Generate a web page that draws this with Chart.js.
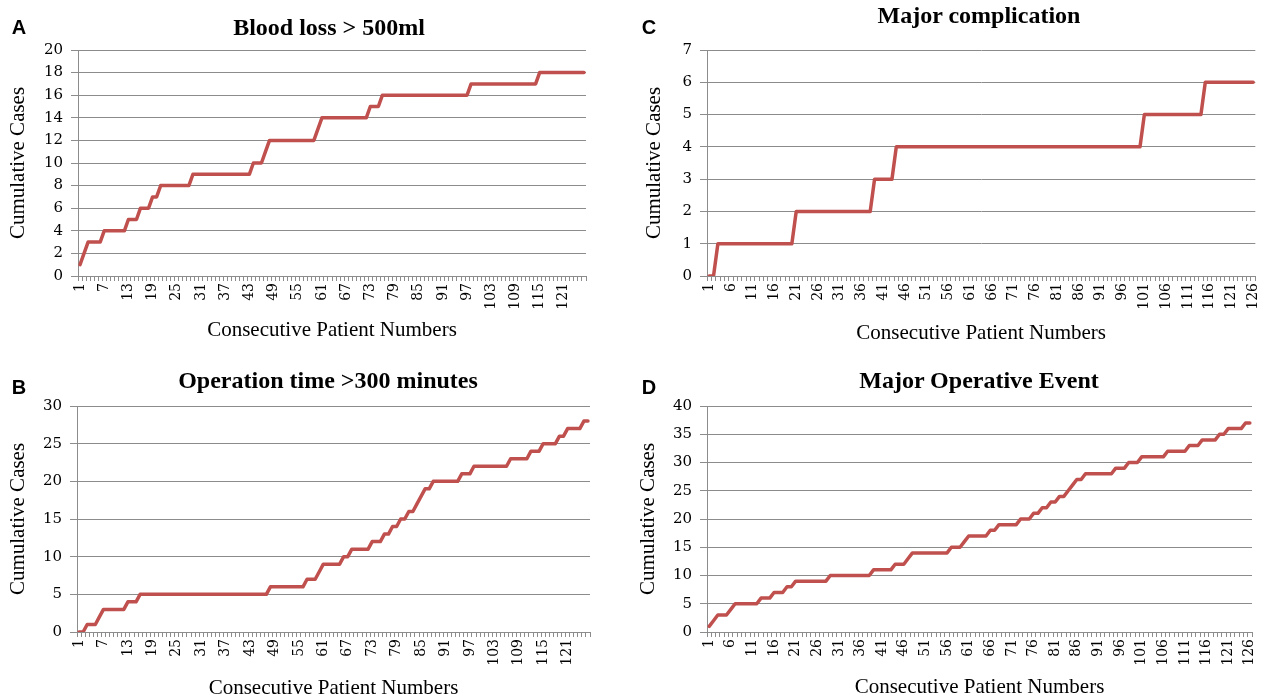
<!DOCTYPE html>
<html>
<head>
<meta charset="utf-8">
<script src="https://cdn.jsdelivr.net/npm/chart.js@4.4.1/dist/chart.umd.min.js"></script>
<style>
body { margin: 0; background: #fff; }
#wrap { position: relative; width: 1272px; height: 699px; overflow: hidden; background: #fff; }
canvas { position: absolute; }
.title { position: absolute; transform: translate(-50%, -50%); font: bold 24px "Liberation Serif"; line-height: 1; white-space: nowrap; color: #000; }
.letter { position: absolute; transform: translate(-50%, -50%); font: bold 20px "Liberation Sans"; line-height: 1; color: #000; }
</style>
</head>
<body>
<div id="wrap">
    <canvas id="chartA" width="620" height="350" style="left:0px;top:0px"></canvas>
    <canvas id="chartC" width="652" height="350" style="left:620px;top:0px"></canvas>
    <canvas id="chartB" width="620" height="344" style="left:0px;top:355px"></canvas>
    <canvas id="chartD" width="652" height="344" style="left:620px;top:355px"></canvas>

    <div class="letter" style="left:19px;top:27px">A</div>
    <div class="letter" style="left:649px;top:27px">C</div>
    <div class="letter" style="left:19px;top:387px">B</div>
    <div class="letter" style="left:649px;top:387px">D</div>

    <div class="title" style="left:329px;top:27px">Blood loss &gt; 500ml</div>
    <div class="title" style="left:979px;top:15px">Major complication</div>
    <div class="title" style="left:328px;top:380px">Operation time &gt;300 minutes</div>
    <div class="title" style="left:979px;top:380px">Major Operative Event</div>
</div>
<script>
// consecutive patient numbers (categories)
const patients = [
    1, 2, 3, 4, 5, 6, 7, 8, 9, 10,
    11, 12, 13, 14, 15, 16, 17, 18, 19, 20,
    21, 22, 23, 24, 25, 26, 27, 28, 29, 30,
    31, 32, 33, 34, 35, 36, 37, 38, 39, 40,
    41, 42, 43, 44, 45, 46, 47, 48, 49, 50,
    51, 52, 53, 54, 55, 56, 57, 58, 59, 60,
    61, 62, 63, 64, 65, 66, 67, 68, 69, 70,
    71, 72, 73, 74, 75, 76, 77, 78, 79, 80,
    81, 82, 83, 84, 85, 86, 87, 88, 89, 90,
    91, 92, 93, 94, 95, 96, 97, 98, 99, 100,
    101, 102, 103, 104, 105, 106, 107, 108, 109, 110,
    111, 112, 113, 114, 115, 116, 117, 118, 119, 120,
    121, 122, 123, 124, 125, 126
];

// A: blood loss > 500ml
const bloodLoss = [
    1, 2, 3, 3, 3, 3, 4, 4, 4, 4,
    4, 4, 5, 5, 5, 6, 6, 6, 7, 7,
    8, 8, 8, 8, 8, 8, 8, 8, 9, 9,
    9, 9, 9, 9, 9, 9, 9, 9, 9, 9,
    9, 9, 9, 10, 10, 10, 11, 12, 12, 12,
    12, 12, 12, 12, 12, 12, 12, 12, 12, 13,
    14, 14, 14, 14, 14, 14, 14, 14, 14, 14,
    14, 14, 15, 15, 15, 16, 16, 16, 16, 16,
    16, 16, 16, 16, 16, 16, 16, 16, 16, 16,
    16, 16, 16, 16, 16, 16, 16, 17, 17, 17,
    17, 17, 17, 17, 17, 17, 17, 17, 17, 17,
    17, 17, 17, 17, 18, 18, 18, 18, 18, 18,
    18, 18, 18, 18, 18, 18
];

// B: operation time > 300 minutes
const opTime = [
    0, 0, 1, 1, 1, 2, 3, 3, 3, 3,
    3, 3, 4, 4, 4, 5, 5, 5, 5, 5,
    5, 5, 5, 5, 5, 5, 5, 5, 5, 5,
    5, 5, 5, 5, 5, 5, 5, 5, 5, 5,
    5, 5, 5, 5, 5, 5, 5, 6, 6, 6,
    6, 6, 6, 6, 6, 6, 7, 7, 7, 8,
    9, 9, 9, 9, 9, 10, 10, 11, 11, 11,
    11, 11, 12, 12, 12, 13, 13, 14, 14, 15,
    15, 16, 16, 17, 18, 19, 19, 20, 20, 20,
    20, 20, 20, 20, 21, 21, 21, 22, 22, 22,
    22, 22, 22, 22, 22, 22, 23, 23, 23, 23,
    23, 24, 24, 24, 25, 25, 25, 25, 26, 26,
    27, 27, 27, 27, 28, 28
];

// C: major complication
const majorComp = [
    0, 0, 1, 1, 1, 1, 1, 1, 1, 1,
    1, 1, 1, 1, 1, 1, 1, 1, 1, 1,
    2, 2, 2, 2, 2, 2, 2, 2, 2, 2,
    2, 2, 2, 2, 2, 2, 2, 2, 3, 3,
    3, 3, 3, 4, 4, 4, 4, 4, 4, 4,
    4, 4, 4, 4, 4, 4, 4, 4, 4, 4,
    4, 4, 4, 4, 4, 4, 4, 4, 4, 4,
    4, 4, 4, 4, 4, 4, 4, 4, 4, 4,
    4, 4, 4, 4, 4, 4, 4, 4, 4, 4,
    4, 4, 4, 4, 4, 4, 4, 4, 4, 4,
    5, 5, 5, 5, 5, 5, 5, 5, 5, 5,
    5, 5, 5, 5, 6, 6, 6, 6, 6, 6,
    6, 6, 6, 6, 6, 6
];

// D: major operative event
const majorEvent = [
    1, 2, 3, 3, 3, 4, 5, 5, 5, 5,
    5, 5, 6, 6, 6, 7, 7, 7, 8, 8,
    9, 9, 9, 9, 9, 9, 9, 9, 10, 10,
    10, 10, 10, 10, 10, 10, 10, 10, 11, 11,
    11, 11, 11, 12, 12, 12, 13, 14, 14, 14,
    14, 14, 14, 14, 14, 14, 15, 15, 15, 16,
    17, 17, 17, 17, 17, 18, 18, 19, 19, 19,
    19, 19, 20, 20, 20, 21, 21, 22, 22, 23,
    23, 24, 24, 25, 26, 27, 27, 28, 28, 28,
    28, 28, 28, 28, 29, 29, 29, 30, 30, 30,
    31, 31, 31, 31, 31, 31, 32, 32, 32, 32,
    32, 33, 33, 33, 34, 34, 34, 34, 35, 35,
    36, 36, 36, 36, 37, 37
];

const lineColor = '#C0504D';
const gridColor = '#8c8c8c';

function makeChart(id, values, cfg) {
    return new Chart(document.getElementById(id), {
        type: 'line',
        data: {
            labels: patients,
            datasets: [{
                data: values,
                borderColor: lineColor,
                borderWidth: 3.5,
                pointRadius: 0,
                tension: 0,
                fill: false,
                borderJoinStyle: 'round',
                borderCapStyle: 'round',
            }]
        },
        options: {
            responsive: false,
            animation: false,
            layout: { padding: cfg.pad },
            plugins: { legend: { display: false }, tooltip: { enabled: false } },
            scales: {
                x: {
                    type: 'category',
                    offset: true,
                    grid: { display: true, drawOnChartArea: false, drawTicks: true, tickLength: 5, offset: true, color: gridColor },
                    border: { display: true, color: gridColor, width: 1 },
                    ticks: {
                        autoSkip: false, maxRotation: 90, minRotation: 90, padding: 2, color: '#000',
                        font: { family: 'DejaVu Serif', size: 14 },
                        callback: (v, i) => (i % cfg.step === 0 ? patients[i] : '')
                    },
                    title: { display: true, text: 'Consecutive Patient Numbers', color: '#000', padding: 0,
                             font: { family: 'Liberation Serif', size: 21, lineHeight: 1 } },
                    afterFit: s => { s.height = cfg.xh; }
                },
                y: {
                    min: 0, max: cfg.max,
                    grid: { color: gridColor, tickLength: 7, drawTicks: true },
                    border: { color: gridColor, width: 1 },
                    ticks: { stepSize: cfg.yStep, padding: 8, color: '#000', font: { family: 'DejaVu Serif', size: 15 } },
                    title: { display: true, text: 'Cumulative Cases', color: '#000', padding: { top: cfg.yt, bottom: 0 },
                             font: { family: 'Liberation Serif', size: 21, lineHeight: 1 } },
                    afterFit: s => { s.width = cfg.yw; }
                }
            }
        }
    });
}

makeChart('chartA', bloodLoss,  { pad: { top: 50, right: 34, bottom: 9, left: 0 }, xh: 65, yw: 78, yt: 8,  max: 20, yStep: 2, step: 6 });
makeChart('chartC', majorComp,  { pad: { top: 50, right: 10, bottom: 6, left: 0 }, xh: 68, yw: 87, yt: 24, max: 7,  yStep: 1, step: 5 });
makeChart('chartB', opTime,     { pad: { top: 51, right: 30, bottom: 0, left: 0 }, xh: 67, yw: 77, yt: 8,  max: 30, yStep: 5, step: 6 });
makeChart('chartD', majorEvent, { pad: { top: 51, right: 20, bottom: 1, left: 0 }, xh: 66, yw: 87, yt: 18, max: 40, yStep: 5, step: 5 });
</script>
</body>
</html>
